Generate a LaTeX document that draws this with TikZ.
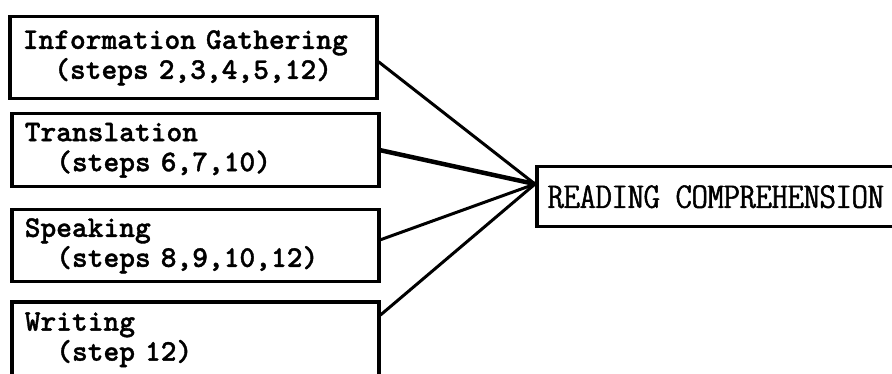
\documentclass[tikz,border=0pt]{standalone}
\usepackage{fontspec}
\newfontfamily\twbold{lmmonolt10-bold}[Extension=.otf, FakeBold=1.2]
\newfontfamily\twcond{lmmonoltcond10-regular}[Extension=.otf, FakeStretch=1.27, FakeBold=1.5]
\usetikzlibrary{calc}
\begin{document}
\begin{tikzpicture}[x=1pt,y=-1pt,
  leftbox/.style={draw, line width=3.5pt, anchor=north west, minimum width=367pt,
    text width=341pt, inner xsep=13pt, inner ysep=0pt, align=left,
    font=\twbold\fontsize{30}{30}\selectfont},
  rightbox/.style={draw, line width=3.5pt, anchor=north west, minimum height=60pt,
    inner xsep=11pt, align=left,
    font=\twcond\fontsize{36}{36}\selectfont},
  conn/.style={line width=3pt, line cap=round}]
\useasboundingbox (0,0) rectangle (892,374);
\clip (0,0) rectangle (892,374);
\fill[white] (0,0) rectangle (892,374);

\node[leftbox, minimum height=82pt] (b1) at (8,15)
  {Information Gathering\\\phantom{XX}(steps 2,3,4,5,12)};
\node[leftbox, minimum height=73pt] (b2) at (10,112)
  {Translation\\\phantom{XX}(steps 6,7,10)};
\node[leftbox, minimum height=72pt] (b3) at (10,208)
  {Speaking\\\phantom{XX}(steps 8,9,10,12)};
\node[leftbox, minimum height=76pt] (b4) at (10,300)
  {Writing\\\phantom{XX}(step 12)};

\node[rightbox] (R) at (535,165) {READING COMPREHENSION};
\coordinate (conv) at ($(R.north west)!0.3!(R.south west)$);

\draw[conn] ([yshift=-4pt]b1.east) -- (conv);
\draw[conn, line width=4.5pt] (b2.east) -- (conv);
\draw[conn] ([yshift=6pt]b3.east) -- (conv);
\draw[conn] ([yshift=-15pt]b4.north east) -- (conv);
\end{tikzpicture}
\end{document}
